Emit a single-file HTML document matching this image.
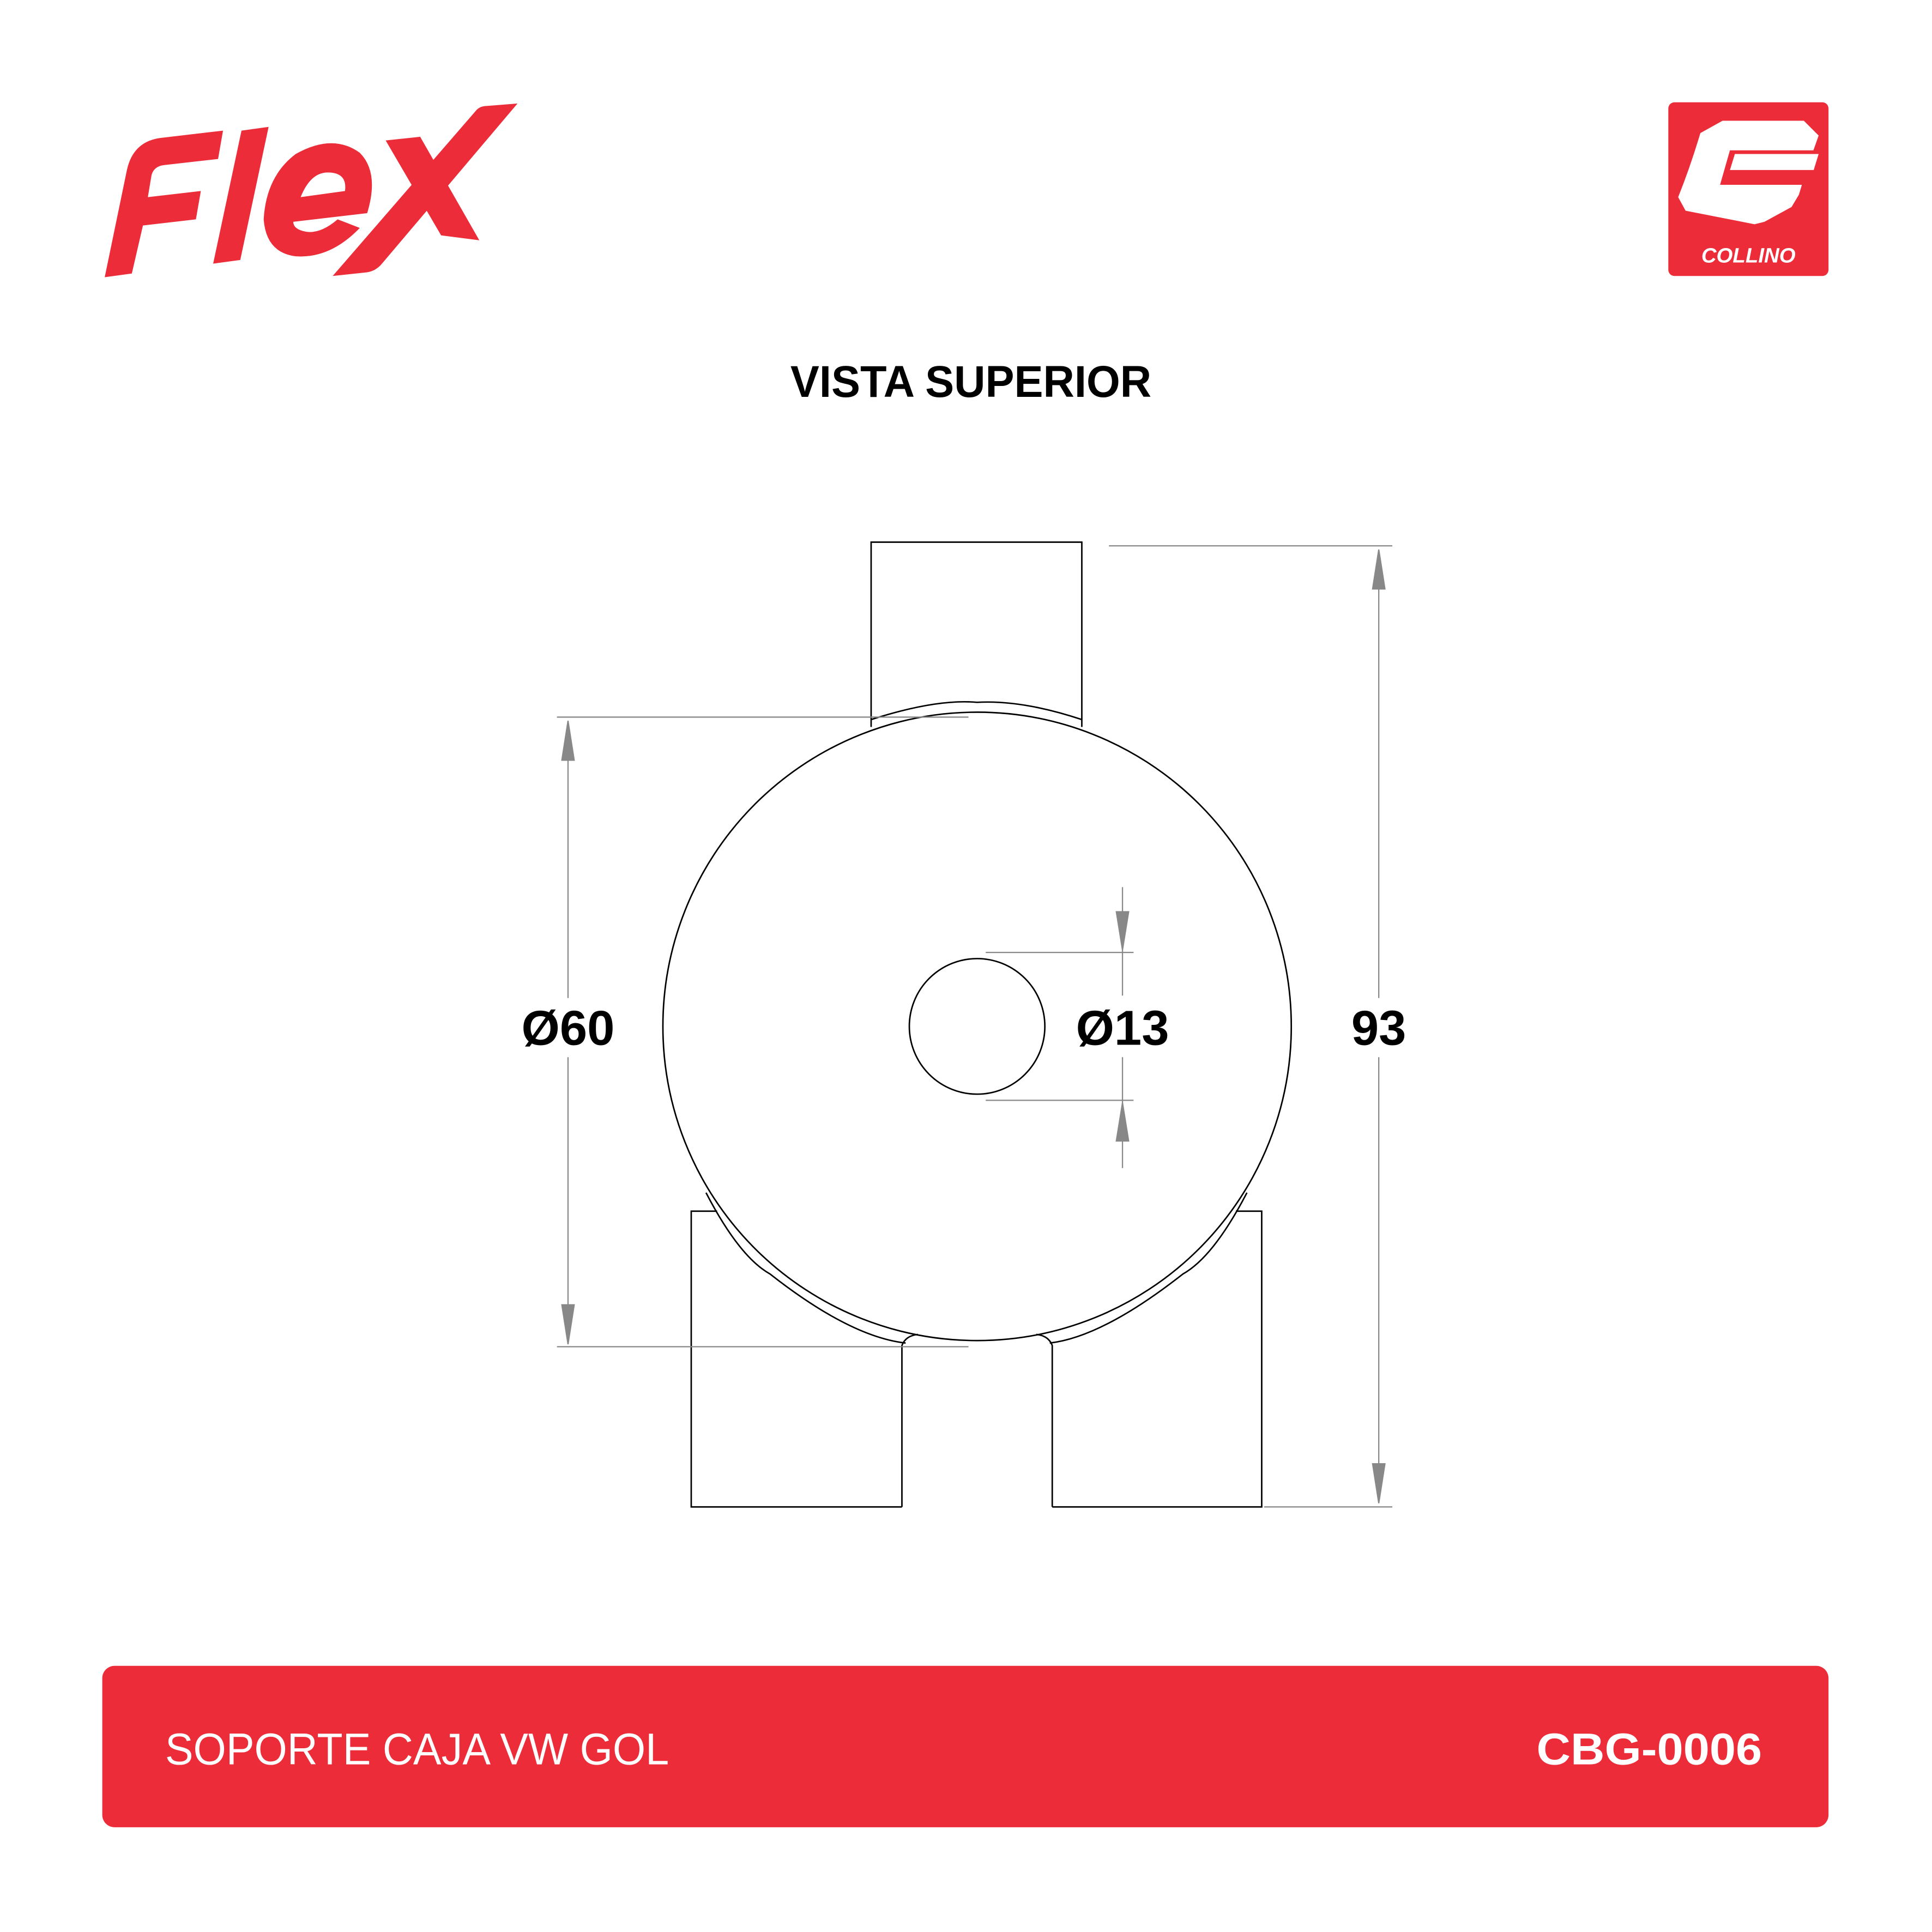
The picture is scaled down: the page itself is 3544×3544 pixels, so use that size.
<!DOCTYPE html>
<html><head><meta charset="utf-8"><style>html,body{margin:0;padding:0;background:#fff}svg{display:block}</style></head>
<body>
<svg width="3544" height="3544" viewBox="0 0 1568 1568" xmlns="http://www.w3.org/2000/svg">
<rect width="1568" height="1568" fill="#fff"/>
<!-- Flex logo -->
<g fill="#EC2D39">
<path d="M85,225 L103,138 Q108,115 130,112 L181,106 L177,129 L133,134 Q125,135 123,142 L120,160 L163,155 L159,178 L116,183 L107,222 Z"/>
<path d="M173,214 L196,106 L218,103 L195,211 Z"/>
<path d="M238,180 L298,173 Q308,140 292,124 Q270,108 240,125 Q216,143 214,178 Q216,205 240,208 Q268,210 292,185 L274,178 Q260,190 248,188 Q238,186 238,180 Z M244,160 Q252,140 266,140 Q282,140 280,155 Z"/>
<path d="M313,114 L341,111 L389,195 L358,191 Z"/>
<path d="M270,224 L387,89 Q390,86 395,86 L420,84 L310,214 Q305,220 298,221 Z"/>
</g>
<!-- Collino logo -->
<rect x="1354" y="83" width="130" height="141" rx="5" fill="#EC2D39"/>
<path d="M1380,108 L1398,98 L1464,98 L1476,110 L1470,127 L1408,127 L1404,138 L1466,138 L1460,158 L1454,168 L1432,180 L1424,182 L1368,171 L1362,160 Q1372,135 1380,108 Z" fill="#fff"/>
<path d="M1404,122 L1480,122 L1480,150 L1396,150 Z" fill="#EC2D39"/>
<path d="M1408,125 L1476,125 L1472,138 L1404,138 Z" fill="#fff"/>
<text x="1419" y="213" font-family="Liberation Sans,sans-serif" font-weight="bold" font-style="italic" font-size="17" fill="#fff" text-anchor="middle">COLLINO</text>
<!-- title -->
<text x="788" y="322" font-family="Liberation Sans,sans-serif" font-weight="bold" font-size="36" text-anchor="middle" fill="#000" textLength="293" lengthAdjust="spacingAndGlyphs">VISTA SUPERIOR</text>
<!-- drawing -->
<g fill="none" stroke="#000" stroke-width="1.2">
<path d="M707,590 L707,440 L878,440 L878,590"/>
<path d="M707,584 Q760,567 793,570 Q830,568 878,584"/>
<circle cx="793" cy="833" r="255"/>
<circle cx="793" cy="833" r="55"/>
<path d="M732,1223 L561,1223 L561,983 L582,983"/>
<path d="M854,1223 L1024,1223 L1024,983 L1003,983"/>
<path d="M732,1223 L732,1092 Q735,1084 745,1083"/>
<path d="M854,1223 L854,1092 Q851,1084 841,1083"/>
<path d="M573,968 Q600,1020 625,1034 Q690,1085 735,1090"/>
<path d="M1012,968 Q985,1020 960,1034 Q895,1085 852,1090"/>
</g>
<!-- dimensions -->
<g stroke="#888" stroke-width="1" fill="#888">
<line x1="900" y1="443" x2="1130" y2="443"/>
<line x1="1026" y1="1223" x2="1130" y2="1223"/>
<line x1="1119" y1="450" x2="1119" y2="810"/>
<line x1="1119" y1="858" x2="1119" y2="1218"/>
<path d="M1119,446 L1114,478 L1124,478 Z"/>
<path d="M1119,1220 L1114,1188 L1124,1188 Z"/>
<line x1="452" y1="582" x2="786" y2="582"/>
<line x1="452" y1="1093" x2="786" y2="1093"/>
<line x1="461" y1="588" x2="461" y2="810"/>
<line x1="461" y1="858" x2="461" y2="1088"/>
<path d="M461,585 L456,617 L466,617 Z"/>
<path d="M461,1091 L456,1059 L466,1059 Z"/>
<line x1="800" y1="773" x2="920" y2="773"/>
<line x1="800" y1="893" x2="920" y2="893"/>
<line x1="911" y1="720" x2="911" y2="808"/>
<line x1="911" y1="858" x2="911" y2="948"/>
<path d="M911,771 L906,740 L916,740 Z"/>
<path d="M911,895 L906,926 L916,926 Z"/>
</g>
<g font-family="Liberation Sans,sans-serif" font-weight="bold" font-size="40" fill="#000" text-anchor="middle">
<text x="461" y="848">Ø60</text>
<text x="911" y="848">Ø13</text>
<text x="1119" y="848">93</text>
</g>
<!-- bottom bar -->
<rect x="83" y="1352" width="1401" height="131" rx="10" fill="#EC2D39"/>
<text x="134" y="1432" font-family="Liberation Sans,sans-serif" font-size="36" fill="#fff" textLength="409" lengthAdjust="spacingAndGlyphs">SOPORTE CAJA VW GOL</text>
<text x="1247" y="1432" font-family="Liberation Sans,sans-serif" font-weight="bold" font-size="36" fill="#fff" textLength="183" lengthAdjust="spacingAndGlyphs">CBG-0006</text>
</svg>
</body></html>
